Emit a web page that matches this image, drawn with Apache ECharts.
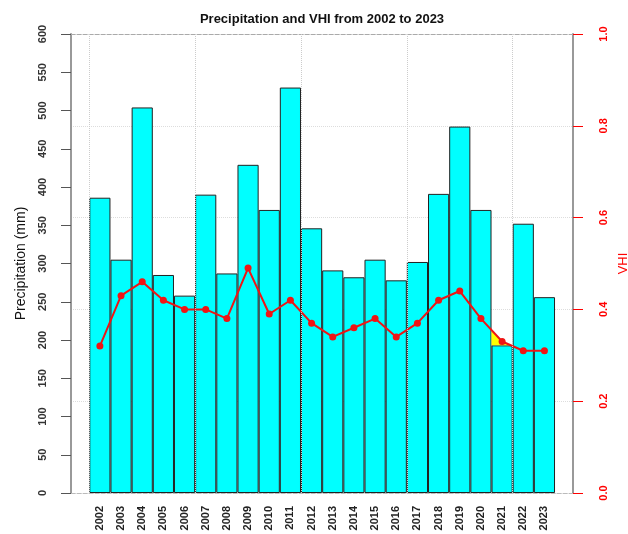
<!DOCTYPE html>
<html>
<head>
<meta charset="utf-8">
<script src="https://cdn.jsdelivr.net/npm/echarts@6/dist/echarts.min.js"></script>
<style>
  html, body { margin: 0; padding: 0; background: #fff; }
  #chart { width: 628px; height: 534px; }
</style>
</head>
<body>
<div id="chart"></div>
<script>
// data
const years = ["2002", "2003", "2004", "2005", "2006", "2007", "2008", "2009", "2010", "2011", "2012",
  "2013", "2014", "2015", "2016", "2017", "2018", "2019", "2020", "2021", "2022", "2023"];
const precipitation = [386, 305, 504, 285, 258, 390, 287, 429, 370, 530, 346,
  291, 282, 305, 278, 302, 391, 479, 370, 193, 352, 256];
const vhi = [0.32, 0.43, 0.46, 0.42, 0.40, 0.40, 0.38, 0.49, 0.39, 0.42, 0.37,
  0.34, 0.36, 0.38, 0.34, 0.37, 0.42, 0.44, 0.38, 0.33, 0.31, 0.31];
// bar boundaries where the dotted vertical grid lines are
const vGrid = [-0.5, 4.5, 9.5, 14.5, 19.5];
// the year where a small yellow patch sits between line and bar top
const yellowIdx = 19;

const FONT = "'Liberation Sans', Arial, sans-serif";
const idx = years.map((y, i) => i);
const X_MIN = -1.364;
const X_MAX = 22.349;

var myChart = echarts.init(document.getElementById("chart"), null, { renderer: "canvas" });

// yellow patch: under the VHI line, above the bar top, inside the bar
function renderYellow (params, api) {
  const i = yellowIdx;
  const p0 = api.coord([i - 1, vhi[i - 1]]);
  const p1 = api.coord([i, vhi[i]]);
  const p2 = api.coord([i + 1, vhi[i + 1]]);
  const left = api.coord([i - 0.5, 0])[0];
  const topY = api.coord([i, precipitation[i] / 600])[1];
  const yA = p0[1] + (left - p0[0]) / (p1[0] - p0[0]) * (p1[1] - p0[1]);
  const xB = p1[0] + (topY - p1[1]) / (p2[1] - p1[1]) * (p2[0] - p1[0]);
  return {
    type: "polygon",
    shape: { points: [[left, yA], p1, [xB, topY], [left, topY]] },
    style: { fill: "#ffff00", stroke: "none" },
    z2: 5,
  };
}

let option = {
  animation: false,
  backgroundColor: "#fff",
  title: {
    text: "Precipitation and VHI from 2002 to 2023",
    left: 317,
    textAlign: "center",
    top: 8,
    textStyle: { fontFamily: FONT, fontSize: 13, fontWeight: "bold", color: "#111" },
  },
  grid: { left: 71, right: 55, top: 34, bottom: 41, outerBoundsMode: "none", containLabel: false },
  xAxis: [
    {
      type: "value",
      min: X_MIN,
      max: X_MAX,
      axisLine: { show: true, onZero: false, lineStyle: { color: "#bbb", width: 1, type: "dashed" } },
      axisTick: { show: false },
      splitLine: { show: false },
      axisLabel: {
        customValues: idx,
        rotate: 90,
        margin: 13,
        fontFamily: FONT,
        fontSize: 11,
        fontWeight: "bold",
        color: "#222",
        formatter: (v) => years[Math.round(v)],
      },
    },
    {
      type: "value",
      position: "top",
      min: X_MIN,
      max: X_MAX,
      axisLine: { show: true, onZero: false, lineStyle: { color: "#aaa", width: 1, type: "dashed" } },
      axisTick: { show: false },
      axisLabel: { show: false },
      splitLine: { show: false },
    },
  ],
  yAxis: [
    {
      type: "value",
      min: 0,
      max: 600,
      interval: 50,
      name: "Precipitation (mm)",
      nameLocation: "middle",
      nameGap: 43,
      nameTextStyle: { fontFamily: FONT, fontSize: 14, color: "#111" },
      axisLine: { show: true, onZero: false, lineStyle: { color: "#999", width: 2 } },
      axisTick: { show: true, length: 10, lineStyle: { color: "#555" } },
      axisLabel: { rotate: 90, margin: 23, fontFamily: FONT, fontSize: 11, fontWeight: "bold", color: "#333" },
      splitLine: { show: false },
    },
    {
      type: "value",
      min: 0,
      max: 1,
      interval: 0.2,
      position: "right",
      name: "VHI",
      nameLocation: "middle",
      nameGap: 42,
      nameTextStyle: { fontFamily: FONT, fontSize: 13, color: "#ff0000" },
      axisLine: { show: true, onZero: false, lineStyle: { color: "#999", width: 2 } },
      axisTick: { show: true, length: 10, lineStyle: { color: "#ff0000" } },
      axisLabel: {
        rotate: 90,
        margin: 25,
        fontFamily: FONT,
        fontSize: 11,
        fontWeight: "bold",
        color: "#ff0000",
        formatter: (v) => v.toFixed(1),
      },
      splitLine: { show: true, lineStyle: { color: "#ddd", type: "dotted", width: 1 } },
    },
  ],
  series: [
    {
      type: "bar",
      name: "Precipitation",
      xAxisIndex: 0,
      yAxisIndex: 0,
      data: precipitation.map((v, i) => [i, v]),
      barWidth: 21.17,
      itemStyle: { color: "#00ffff", borderColor: "#222", borderWidth: 1 },
      z: 2,
      markLine: {
        silent: true,
        symbol: "none",
        label: { show: false },
        lineStyle: { color: "#ccc", type: "dotted", width: 1 },
        data: vGrid.map((x) => ({ xAxis: x })),
      },
    },
    {
      type: "custom",
      name: "patch",
      xAxisIndex: 0,
      yAxisIndex: 1,
      data: [[yellowIdx, vhi[yellowIdx]]],
      renderItem: renderYellow,
      z: 3,
      silent: true,
    },
    {
      type: "line",
      name: "VHI",
      xAxisIndex: 0,
      yAxisIndex: 1,
      data: vhi.map((v, i) => [i, v]),
      symbol: "circle",
      symbolSize: 7,
      lineStyle: { color: "#f01414", width: 2 },
      itemStyle: { color: "#f01414" },
      z: 4,
    },
  ],
};
myChart.setOption(option);
</script>
</body>
</html>
